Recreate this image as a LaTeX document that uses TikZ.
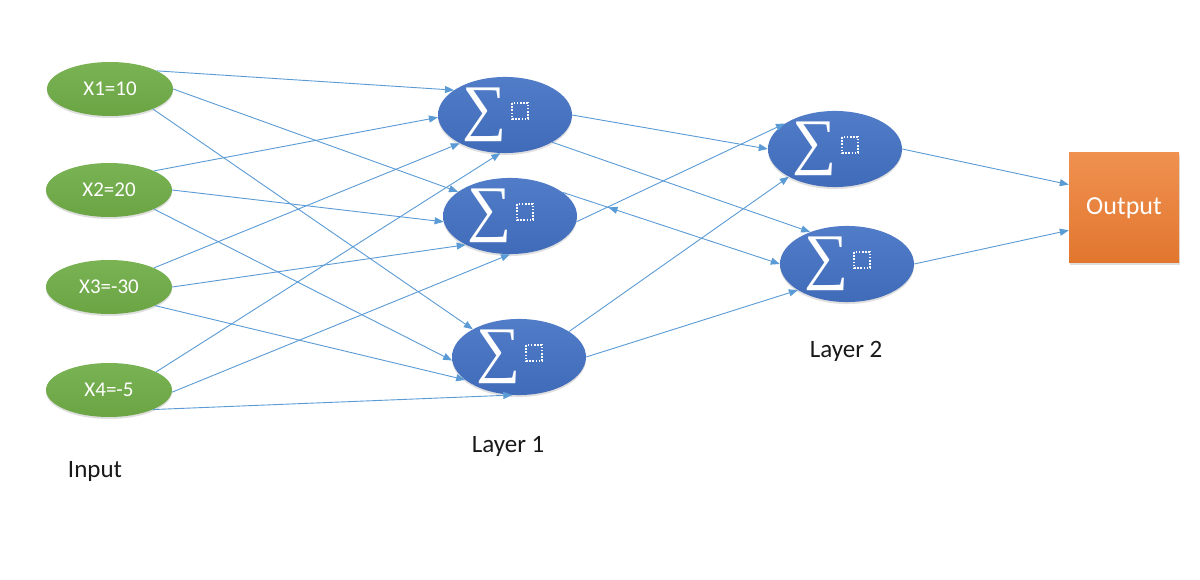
\documentclass[tikz,border=0pt]{standalone}
\usepackage{fontspec}
\setmainfont{Carlito}
\newfontfamily\sumfont{Liberation Serif}
\usetikzlibrary{arrows.meta,shapes.geometric,shadows,decorations.markings}
\definecolor{linkblue}{HTML}{5B9BD5}
\definecolor{nodeblue}{HTML}{4472C4}
\definecolor{nodegreen}{HTML}{70AD47}
\definecolor{outorange}{HTML}{ED7D31}

\begin{document}
\begin{tikzpicture}[x=1pt, y=-1pt,
    inputnode/.style={ellipse, minimum width=126pt, minimum height=54pt, inner sep=0pt,
      top color=nodegreen!93!white, bottom color=nodegreen!95!black, text=white,
      font=\fontsize{21}{24}\selectfont,
      drop shadow={opacity=0.25, shadow xshift=0pt, shadow yshift=-2pt}},
    sumnode/.style={ellipse, minimum width=134pt, minimum height=75pt, inner sep=0pt,
      top color=nodeblue!93!white, bottom color=nodeblue!94!black, text=white,
      drop shadow={opacity=0.25, shadow xshift=0pt, shadow yshift=-2pt}},
    outnode/.style={rectangle, minimum size=110pt, inner sep=0pt,
      top color=outorange!85!white, bottom color=outorange!95!black, text=white,
      font=\fontsize{26}{30}\selectfont,
      drop shadow={opacity=0.25, shadow xshift=1pt, shadow yshift=-2pt}},
    layerlabel/.style={text=black!90, font=\fontsize{25}{30}\selectfont},
    dotbox/.style={draw=white, line width=1.6pt, dash pattern=on 1.6pt off 1.6pt},
    link/.style={draw=linkblue, line width=0.9pt, -{Triangle[length=9pt,width=7pt]}},
    strayhead/.style={postaction={decorate}, decoration={markings,
      mark=at position 0.21 with {\arrowreversed[linkblue]{Triangle[length=9pt,width=7pt]}}}}]
  \useasboundingbox[fill=white] (0,0) rectangle (1200,580);

  \node[inputnode] (x1) at (110,89) {X1=10};
  \node[inputnode] (x2) at (109,190) {X2=20};
  \node[inputnode] (x3) at (109,287) {X3=-30};
  \node[inputnode] (x4) at (109,390) {X4=-5};

  \node[sumnode] (n1) at (505,115) {\raisebox{4pt}{\sumfont\fontsize{62}{62}\selectfont ∑}\kern40pt};
  \node[sumnode] (n2) at (510,216) {\raisebox{4pt}{\sumfont\fontsize{62}{62}\selectfont ∑}\kern40pt};
  \node[sumnode] (n3) at (519,357) {\raisebox{4pt}{\sumfont\fontsize{62}{62}\selectfont ∑}\kern40pt};
  \node[sumnode] (n4) at (835,149) {\raisebox{4pt}{\sumfont\fontsize{62}{62}\selectfont ∑}\kern40pt};
  \node[sumnode] (n5) at (847,264) {\raisebox{4pt}{\sumfont\fontsize{62}{62}\selectfont ∑}\kern40pt};
  \foreach \n in {n1,n2,n3,n4,n5}
    \draw[dotbox] ([shift={(7,-12)}]\n.center) rectangle ++(16,16);

  \node[outnode] (out) at (1124,208) {Output};

  \node[layerlabel] (inputlabel) at (95,471) {Input};
  \node[layerlabel] (layer1label) at (508,446) {Layer 1};
  \node[layerlabel] (layer2label) at (846,351) {Layer 2};

  \draw[link] (x1.21) -- (n1.154);
  \draw[link] (x1.east) -- (n2.155);
  \draw[link] (x1.-25) -- (n3.149);
  \draw[link] (x2.23) -- (n1.182);
  \draw[link] (x2.east) -- (n2.185);
  \draw[link] (x2.-23) -- (n3.183);
  \draw[link] (x3.23) -- (n1.212);
  \draw[link] (x3.east) -- (n2.213);
  \draw[link] (x3.-22) -- (n3.203);
  \draw[link] (x4.21) -- (n1.263);
  \draw[link] (x4.-2) -- (n2.270);
  \draw[link] (x4.-24) -- (n3.260);

  \draw[link] (n1.east) -- (n4.180);
  \draw[link] (n1.-30) -- (n5.139);
  \draw[link] (n2.-5) -- (n4.153);
  \draw[link, strayhead] (n2.24) -- (n5.180);
  \draw[link] (n3.27) -- (n4.211);
  \draw[link] (n3.east) -- (n5.208);

  \draw[link] (n4.east) -- (out.157);
  \draw[link] (n5.east) -- (out.202);
\end{tikzpicture}
\end{document}
